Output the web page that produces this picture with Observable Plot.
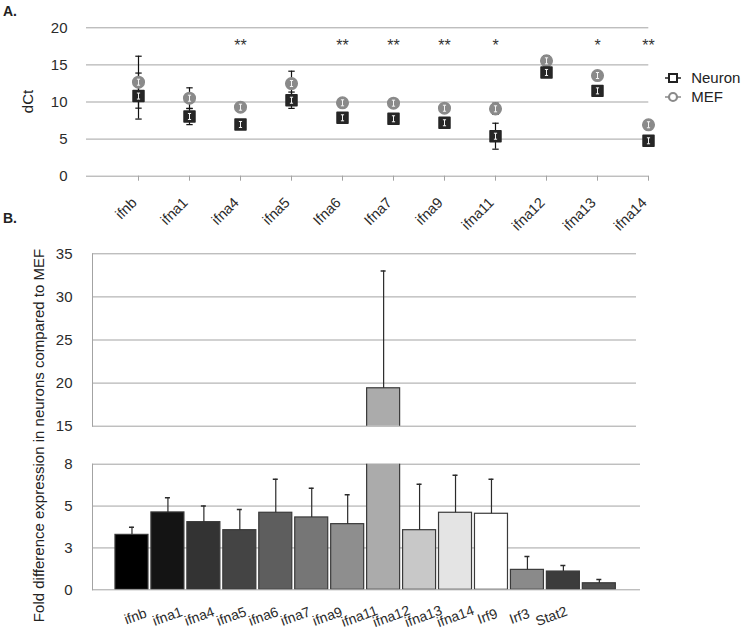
<!DOCTYPE html>
<html><head><meta charset="utf-8">
<script src="https://cdn.jsdelivr.net/npm/d3@7"></script>
<script src="https://cdn.jsdelivr.net/npm/@observablehq/plot@0.6"></script>
<style>
body{margin:0;background:#fff;font-family:"Liberation Sans",Arial,sans-serif;}
#wrap{position:relative;width:750px;height:639px;overflow:hidden;background:#fff;}
#wrap > svg{position:absolute;left:0;}
.panel{position:absolute;font-weight:bold;font-size:14px;color:#222;}
.ytitle{position:absolute;white-space:nowrap;color:#222;transform-origin:center center;}
.leg{position:absolute;font-size:15px;color:#222;white-space:nowrap;line-height:18px;}
</style></head><body><div id="wrap"></div>
<script>
// ---------- Panel A data (dCt) ----------
const genesA   = ["ifnb","ifna1","ifna4","ifna5","Ifna6","Ifna7","ifna9","ifna11","ifna12","ifna13","ifna14"];
const neuronCt = [10.8, 8.05, 6.97, 10.24, 7.87, 7.74, 7.2, 5.39, 13.98, 11.5, 4.77];
const neuronEr = [3.1, 1.1, 0.3, 1.1, 0.4, 0.4, 0.4, 1.75, 0.5, 0.4, 0.3];
const mefCt    = [12.67, 10.51, 9.3, 12.49, 9.89, 9.84, 9.16, 9.08, 15.55, 13.57, 6.93];
const mefEr    = [3.5, 1.4, 0.3, 1.66, 0.3, 0.3, 0.3, 0.75, 0.7, 0.4, 0.3];
const signif   = ["", "", "**", "", "**", "**", "**", "*", "", "*", "**"];
const yTicksA  = [0, 5, 10, 15, 20];

// ---------- Panel B data (fold difference) ----------
const genesB   = ["ifnb","ifna1","ifna4","ifna5","ifna6","ifna7","ifna9","ifna11","ifna12","ifna13","ifna14","Irf9","Irf3","Stat2"];
const fold     = [3.28, 4.62, 4.04, 3.56, 4.6, 4.32, 3.92, 19.4, 3.56, 4.6, 4.54, 1.19, 1.09, 0.39];
const foldErr  = [0.46, 0.87, 0.97, 1.23, 2.0, 1.75, 1.75, 13.6, 2.74, 2.24, 2.06, 0.8, 0.36, 0.22];
const barColor = ["#000000","#141414","#333333","#444444","#5e5e5e","#767676","#8e8e8e","#ababab","#c8c8c8","#e4e4e4","#ffffff","#8a8a8a","#3c3c3c","#4e4e4e"];
const upperTicks = [15, 20, 25, 30, 35];
const lowerTicks = [0, 2.5, 5, 7.5];
const lowerTickLabels = ["0", "3", "5", "8"];

const FONT = "'Liberation Sans', Arial, sans-serif";
const GRID = "#a3a3a3";
const INK = "#2b2b2b";
const wrap = document.getElementById("wrap");

const rowsA = genesA.map((g, i) => ({g, n: neuronCt[i], ne: neuronEr[i], m: mefCt[i], me: mefEr[i], sig: signif[i]}));
const rowsB = genesB.map((g, i) => ({g, v: fold[i], e: foldErr[i], c: barColor[i]}));

function place(svg, top) { svg.style.top = top + "px"; wrap.appendChild(svg); }

// custom symbols: white I-beam inside markers, horizontal error-bar cap
const ibeam = {draw(ctx) { ctx.moveTo(0,-3); ctx.lineTo(0,3); ctx.moveTo(-1.6,-3); ctx.lineTo(1.6,-3); ctx.moveTo(-1.6,3); ctx.lineTo(1.6,3); }};
const cap = {draw(ctx) { ctx.moveTo(-3.2,0); ctx.lineTo(3.2,0); }};

// ---------- Panel A ----------
const hA = 230;
const plotA = Plot.plot({
  width: 750, height: hA,
  marginTop: 27.3, marginBottom: hA - 175.7, marginLeft: 86, marginRight: 750 - 648.3,
  x: {type: "point", domain: genesA, range: [137.7, 648.3], padding: 0, axis: null},
  y: {domain: [0, 20], axis: null},
  style: {fontFamily: FONT, background: "transparent", overflow: "visible"},
  marks: [
    Plot.gridY(yTicksA.slice(1), {stroke: GRID, strokeOpacity: 1}),
    Plot.ruleY([0], {stroke: GRID}),
    Plot.axisX({ticks: genesA, tickSize: 5, stroke: GRID, tickFormat: () => "", label: null}),
    Plot.axisY({ticks: yTicksA, tickSize: 0, tickPadding: 19, fontSize: 15, fill: INK, tickFormat: d => String(d), label: null}),
    Plot.text(genesA, {x: d => d, frameAnchor: "bottom", dy: 24, dx: -4, rotate: -45, textAnchor: "end", lineAnchor: "middle", fontSize: 14.5, fill: INK}),
    // error bars
    Plot.ruleX(rowsA, {x: "g", y1: d => d.m - d.me, y2: d => d.m + d.me, stroke: "#111", strokeWidth: 1.2}),
    Plot.dot(rowsA, {x: "g", y: d => d.m + d.me, symbol: cap, fill: "none", stroke: "#111", strokeWidth: 1.2}),
    Plot.dot(rowsA, {x: "g", y: d => d.m - d.me, symbol: cap, fill: "none", stroke: "#111", strokeWidth: 1.2}),
    Plot.ruleX(rowsA, {x: "g", y1: d => d.n - d.ne, y2: d => d.n + d.ne, stroke: "#111", strokeWidth: 1.2}),
    Plot.dot(rowsA, {x: "g", y: d => d.n + d.ne, symbol: cap, fill: "none", stroke: "#111", strokeWidth: 1.2}),
    Plot.dot(rowsA, {x: "g", y: d => d.n - d.ne, symbol: cap, fill: "none", stroke: "#111", strokeWidth: 1.2}),
    // markers
    Plot.dot(rowsA, {x: "g", y: "m", symbol: "circle", r: 5.8, fill: "#8a8a8a", stroke: "#8a8a8a", strokeWidth: 1.5}),
    Plot.dot(rowsA, {x: "g", y: "m", symbol: ibeam, fill: "none", stroke: "#f4f4f4", strokeWidth: 1}),
    Plot.dot(rowsA, {x: "g", y: "n", symbol: "square", r: 6.2, fill: "#262626", stroke: "#262626", strokeWidth: 1.5, strokeLinejoin: "round"}),
    Plot.dot(rowsA, {x: "g", y: "n", symbol: ibeam, fill: "none", stroke: "#f4f4f4", strokeWidth: 1}),
    // significance stars
    Plot.text(rowsA.filter(d => d.sig), {x: "g", text: "sig", frameAnchor: "top", dy: 12, fontSize: 16, fill: "#333"})
  ]
});
place(plotA, 0);

// ---------- Panel B: upper (broken axis, 15–35) ----------
const xB = {type: "band", domain: genesB, range: [113.5, 616.8], paddingInner: 0.082, paddingOuter: 0.041, round: false, axis: null};
const topU = 228, hU = 212;
const plotU = Plot.plot({
  width: 750, height: hU,
  marginTop: 253.3 - topU, marginBottom: topU + hU - 425.7, marginLeft: 92, marginRight: 750 - 636,
  x: xB, y: {domain: [15, 35], axis: null}, color: {type: "identity"},
  style: {fontFamily: FONT, background: "transparent", overflow: "visible"},
  marks: [
    Plot.gridY(upperTicks, {stroke: GRID, strokeOpacity: 1}),
    Plot.frame({anchor: "left", stroke: GRID}),
    Plot.axisY({ticks: upperTicks, tickSize: 0, tickPadding: 20, fontSize: 15, fill: INK, tickFormat: d => String(d), label: null}),
    Plot.barY(rowsB, {x: "g", y: "v", fill: "c", stroke: "#3a3a3a", strokeWidth: 1.2, clip: true}),
    Plot.ruleX(rowsB, {x: "g", y1: "v", y2: d => d.v + d.e, stroke: INK, strokeWidth: 1.2, clip: true}),
    Plot.tickY(rowsB, {x: "g", y: d => d.v + d.e, insetLeft: 14, insetRight: 14, stroke: INK, strokeWidth: 1.5, clip: true})
  ]
});
place(plotU, topU);

// ---------- Panel B: lower (0–7.5) ----------
const topL = 440, hL = 160;
const plotL = Plot.plot({
  width: 750, height: hL,
  marginTop: 463.7 - topL, marginBottom: topL + hL - 589.3, marginLeft: 92, marginRight: 750 - 640,
  x: xB, y: {domain: [0, 7.5], axis: null}, color: {type: "identity"},
  style: {fontFamily: FONT, background: "transparent", overflow: "visible"},
  marks: [
    Plot.gridY(lowerTicks, {stroke: GRID, strokeOpacity: 1}),
    Plot.frame({anchor: "left", stroke: GRID}),
    Plot.axisY({ticks: lowerTicks, tickSize: 0, tickPadding: 20, fontSize: 15, fill: INK, tickFormat: d => lowerTickLabels[lowerTicks.indexOf(d)], label: null}),
    Plot.barY(rowsB, {x: "g", y: "v", fill: "c", stroke: "#3a3a3a", strokeWidth: 1.2, clip: true}),
    Plot.ruleX(rowsB, {x: "g", y1: "v", y2: d => d.v + d.e, stroke: INK, strokeWidth: 1.2, clip: true}),
    Plot.tickY(rowsB, {x: "g", y: d => d.v + d.e, insetLeft: 14, insetRight: 14, stroke: INK, strokeWidth: 1.5, clip: true})
  ]
});
place(plotL, topL);

// ---------- Panel B: category labels ----------
const plotLab = Plot.plot({
  width: 750, height: 49, margin: 0,
  x: {type: "point", domain: genesB, range: [129, 557], padding: 0, axis: null},
  style: {fontFamily: FONT, background: "transparent", overflow: "visible"},
  marks: [
    Plot.text(genesB, {x: d => d, frameAnchor: "top", dy: 26, rotate: -20, textAnchor: "middle", lineAnchor: "middle", fontSize: 14, fill: INK})
  ]
});
place(plotLab, 590);

// ---------- HTML text: panel letters, axis titles, legend ----------
function addDiv(cls, html, style) { const d = document.createElement("div"); d.className = cls; d.innerHTML = html; Object.assign(d.style, style); wrap.appendChild(d); return d; }
addDiv("panel", "A.", {left: "3px", top: "3px"});
addDiv("panel", "B.", {left: "3px", top: "210px"});
const t1 = addDiv("ytitle", "dCt", {fontSize: "15px"});
const t2 = addDiv("ytitle", "Fold difference expression in neurons compared to MEF", {fontSize: "15px"});
function center(el, cx, cy) { const w = el.offsetWidth, h = el.offsetHeight; el.style.left = (cx - w/2) + "px"; el.style.top = (cy - h/2) + "px"; el.style.transform = "rotate(-90deg)"; }
center(t1, 27, 101.7);
center(t2, 38, 435);

addDiv("leg", `<svg width="18" height="14" style="vertical-align:middle"><line x1="1" y1="7" x2="17" y2="7" stroke="#222" stroke-width="1.5"/><rect x="5" y="3" width="8" height="8" fill="#fff" stroke="#222" stroke-width="2"/></svg> <span style="vertical-align:middle;margin-left:5px">Neuron</span>`, {left: "664px", top: "68px"});
addDiv("leg", `<svg width="18" height="14" style="vertical-align:middle"><line x1="1" y1="7" x2="17" y2="7" stroke="#8a8a8a" stroke-width="1.5"/><circle cx="9" cy="7" r="4" fill="#fff" stroke="#8a8a8a" stroke-width="2.2"/></svg> <span style="vertical-align:middle;margin-left:5px">MEF</span>`, {left: "664px", top: "87px"});
</script></body></html>
